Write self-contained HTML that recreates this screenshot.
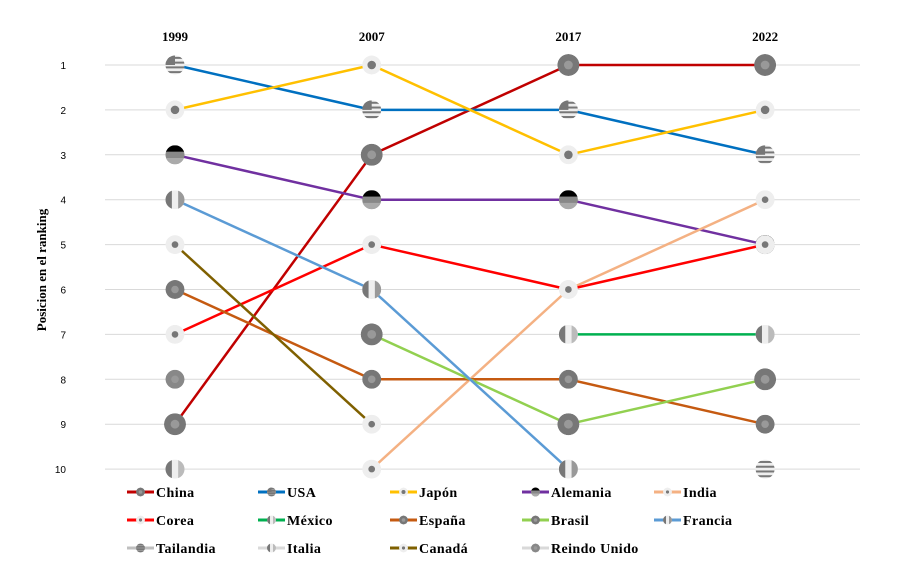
<!DOCTYPE html>
<html><head><meta charset="utf-8"><style>
body{margin:0;background:#fff;}
svg text{font-family:"Liberation Serif",serif;font-weight:bold;}
svg text.tick{font-family:"Liberation Sans",sans-serif;font-weight:normal;}
</style></head><body>
<svg id="c" width="900" height="575" xmlns="http://www.w3.org/2000/svg"></svg>
<script>
const years=["1999","2007","2017","2022"];
const ranks=[1,2,3,4,5,6,7,8,9,10];
const countries=["China","USA","Japón","Alemania","India","Corea","México","España","Brasil","Francia","Tailandia","Italia","Canadá","Reindo Unido"];
const china=[9,3,1,1];
const usa=[1,2,2,3];
const japon=[2,1,3,2];
const alemania=[3,4,4,5];
const india=[null,10,6,4];
const corea=[7,5,6,5];
const mexico=[null,null,7,7];
const espana=[6,8,8,9];
const brasil=[null,7,9,8];
const francia=[4,6,10,null];
const tailandia=[null,null,null,10];
const italia=[10,null,null,null];
const canada=[5,9,null,null];
const reinoUnido=[8,null,null,null];
const seriesVals=[china,usa,japon,alemania,india,corea,mexico,espana,brasil,francia,tailandia,italia,canada,reinoUnido];
const colors=["#C00000","#0070C0","#FFC000","#7030A0","#F4B183","#FF0000","#00B050","#C55A11","#92D050","#5B9BD5","#BFBFBF","#D9D9D9","#7F6000","#D9D9D9"];
const mk=["star","stripes","dot","de","in","kr","mx","es","br","fr","th","it","ca","uk"];
const svg=document.getElementById('c');const NS="http://www.w3.org/2000/svg";
function el(t,a,p){const e=document.createElementNS(NS,t);for(const k in a)e.setAttribute(k,a[k]);(p||svg).appendChild(e);return e;}
const defs=el('defs',{});let cid=0;
const xS=i=>175+i*196.7;
const yS=r=>65+(r-1)*44.9;
ranks.forEach(r=>{const g=el('line',{x1:105,x2:860,y1:yS(r),y2:yS(r),stroke:'#D9D9D9','stroke-width':1});

const t=el('text',{x:66,y:yS(r)+4,'text-anchor':'end','font-size':10,fill:'#000','class':'tick'});t.textContent=r;
});
years.forEach((y,i)=>{const t=el('text',{x:xS(i),y:41,'text-anchor':'middle','font-size':13,fill:'#000'});t.textContent=y;
});
const yt=el('text',{x:0,y:0,'font-size':13,'text-anchor':'middle',transform:'translate(46,270) rotate(-90)'});yt.textContent="Posicion en el ranking";

function marker(type,cx,cy,r,p){
 const g=el('g',{},p);
 const id='cl'+(cid++);const cp=el('clipPath',{id},defs);el('circle',{cx,cy,r},cp);
 const inner=el('g',{'clip-path':`url(#${id})`},g);
 if(type=="dot"){el('circle',{cx,cy,r,fill:'#EEE'},inner);el('circle',{cx,cy,r:r*0.45,fill:'#777'},inner);}
 else if(type=="de"){el('rect',{x:cx-r,y:cy-r,width:2*r,height:2*r,fill:'#888'},inner);el('rect',{x:cx-r,y:cy-r,width:2*r,height:r*0.67,fill:'#000'},inner);el('rect',{x:cx-r,y:cy+r/3,width:2*r,height:r*0.67,fill:'#AAA'},inner);}
 else if(type=="fr"||type=="it"||type=="mx"){el('rect',{x:cx-r,y:cy-r,width:2*r,height:2*r,fill:'#EEE'},inner);el('rect',{x:cx-r,y:cy-r,width:r*0.67,height:2*r,fill:'#777'},inner);el('rect',{x:cx+r/3,y:cy-r,width:r*0.67,height:2*r,fill:type=="fr"?'#999':'#BBB'},inner);}
 else if(type=="stripes"||type=="th"){el('rect',{x:cx-r,y:cy-r,width:2*r,height:2*r,fill:'#EEE'},inner);for(let k=-3;k<=3;k+=2)el('rect',{x:cx-r,y:cy+k*r/4-1,width:r*2,height:2,fill:'#777'},inner);if(type=="stripes")el('rect',{x:cx-r,y:cy-r,width:r,height:r,fill:'#777'},inner);}
 else if(type=="kr"||type=="ca"||type=="in"){el('circle',{cx,cy,r,fill:'#EEE'},inner);el('circle',{cx,cy,r:r*0.35,fill:'#777'},inner);}
 else{el('circle',{cx,cy,r,fill:type=="uk"?'#888':'#777'},inner);el('circle',{cx,cy,r:r*0.4,fill:'#999'},inner);}
 return g;
}
seriesVals.forEach((s,si)=>{
 const g=el('g',{});
 for(let i=0;i<s.length-1;i++)if(s[i]!=null&&s[i+1]!=null){const l=el('line',{x1:xS(i),y1:yS(s[i]),x2:xS(i+1),y2:yS(s[i+1]),stroke:colors[si],'stroke-width':2.5},g);
  }
});
seriesVals.forEach((s,si)=>{s.forEach((v,i)=>{if(v==null)return;const m=marker(mk[si],xS(i),yS(v),(mk[si]=="star"||mk[si]=="br")?11:9.5);
 });});
const lx=[127,258,390,522,654],ly=[492,520,548];
countries.forEach((c,i)=>{const x=lx[i%5],y=ly[Math.floor(i/5)];
 const g=el('g',{});
 el('line',{x1:x,x2:x+27,y1:y,y2:y,stroke:colors[i],'stroke-width':3},g);
 marker(mk[i],x+13.5,y,4.5,g);
 const t=el('text',{x:x+29,y:y+5,'font-size':14,fill:'#000','letter-spacing':'0.4'},g);t.textContent=c;});
</script></body></html>
